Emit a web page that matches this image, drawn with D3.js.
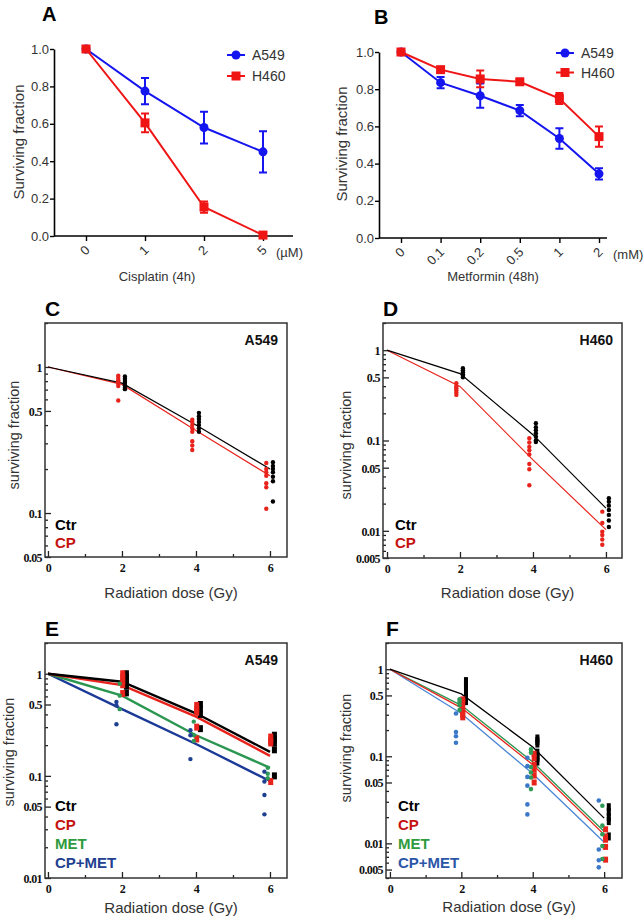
<!DOCTYPE html>
<html lang="en">
<head>
<meta charset="utf-8">
<title>Surviving fraction panels</title>
<script src="https://cdn.jsdelivr.net/npm/d3@7"></script>
<style>
  body { margin: 0; background: #fff; }
  svg { display: block; font-family: Arial, "Liberation Sans", sans-serif; }
</style>
</head>
<body>
<script>
// ---------- data ----------
// A: cisplatin (4h)
const cisDoses = ["0", "1", "2", "5"];
const cisA549 = [1.0, 0.775, 0.58, 0.45];
const cisA549Err = [0.0, 0.07, 0.085, 0.11];
const cisH460 = [1.0, 0.605, 0.155, 0.005];
const cisH460Err = [0.0, 0.05, 0.03, 0.008];

// B: metformin (48h)
const metDoses = ["0", "0.1", "0.2", "0.5", "1", "2"];
const metA549 = [1.0, 0.835, 0.765, 0.685, 0.535, 0.345];
const metA549Err = [0.0, 0.03, 0.065, 0.03, 0.055, 0.03];
const metH460 = [1.0, 0.905, 0.855, 0.84, 0.75, 0.545];
const metH460Err = [0.0, 0.015, 0.045, 0.015, 0.03, 0.055];

// radiation doses (Gy); fitted curves at 0,2,4,6 ; replicate dots at 2,4,6
const radDoses = [0, 2, 4, 6];
const dotDoses = [2, 4, 6];

// C: A549 +/- cisplatin
const cFitCtr = [1, 0.775, 0.40, 0.20];
const cFitCP = [1, 0.76, 0.367, 0.18];
const cDotCtr = [[0.86, 0.83, 0.8, 0.78, 0.75, 0.72, 0.705], [0.485, 0.46, 0.44, 0.42, 0.4, 0.38, 0.36], [0.223, 0.21, 0.2, 0.19, 0.177, 0.165, 0.12]];
const cDotCP = [[0.87, 0.84, 0.81, 0.79, 0.77, 0.74, 0.59], [0.435, 0.42, 0.4, 0.38, 0.36, 0.31, 0.29, 0.27], [0.22, 0.2, 0.19, 0.18, 0.16, 0.15, 0.107]];

// D: H460 +/- cisplatin
const dFitCtr = [1, 0.55, 0.116, 0.0178];
const dFitCP = [1, 0.397, 0.061, 0.0103];
const dDotCtr = [[0.63, 0.6, 0.57, 0.54, 0.52, 0.5], [0.155, 0.14, 0.13, 0.12, 0.11, 0.1, 0.096], [0.023, 0.021, 0.019, 0.017, 0.015, 0.013, 0.011]];
const dDotCP = [[0.43, 0.4, 0.38, 0.36, 0.34, 0.32], [0.106, 0.095, 0.085, 0.078, 0.07, 0.055, 0.048, 0.032], [0.0163, 0.0122, 0.0098, 0.009, 0.008, 0.007]];

// E: A549 four conditions
const eFitCtr = [1, 0.835, 0.41, 0.172];
const eFitCP = [1, 0.775, 0.38, 0.157];
const eFitMET = [1, 0.61, 0.25, 0.12];
const eFitCPMET = [1, 0.45, 0.205, 0.089];
const eDotCtr = [[1.0, 0.93, 0.86, 0.8, 0.76, 0.65], [0.5, 0.45, 0.4, 0.29], [0.25, 0.23, 0.21, 0.18, 0.1]];
const eDotCP = [[1.0, 0.92, 0.85, 0.78, 0.64], [0.49, 0.45, 0.42, 0.3, 0.23], [0.24, 0.22, 0.21, 0.088]];
const eDotMET = [[0.8, 0.61, 0.45], [0.34, 0.25, 0.22], [0.12, 0.105, 0.095]];
const eDotCPMET = [[0.53, 0.49, 0.32], [0.28, 0.25, 0.146], [0.11, 0.088, 0.065, 0.042]];

// F: H460 four conditions
const fFitCtr = [1, 0.52, 0.128, 0.0195];
const fFitCP = [1, 0.36, 0.08, 0.0126];
const fFitMET = [1, 0.385, 0.086, 0.0137];
const fFitCPMET = [1, 0.31, 0.063, 0.0103];
const fDotCtr = [[0.73, 0.68, 0.63, 0.52, 0.47, 0.43], [0.16, 0.15, 0.14, 0.11, 0.1, 0.095, 0.087], [0.026, 0.023, 0.02, 0.018, 0.012]];
const fDotCP = [[0.45, 0.43, 0.37, 0.33, 0.3, 0.28], [0.107, 0.095, 0.08, 0.07, 0.06, 0.05], [0.0145, 0.012, 0.011, 0.0091, 0.0065]];
const fDotMET = [[0.45, 0.42, 0.385, 0.34], [0.12, 0.11, 0.075, 0.065, 0.057, 0.042], [0.027, 0.016, 0.0127, 0.0093, 0.0066]];
const fDotCPMET = [[0.31, 0.19, 0.17, 0.143], [0.096, 0.077, 0.058, 0.046, 0.028, 0.0215], [0.031, 0.0085, 0.0064, 0.0053]];

const linTicks = [0, 0.2, 0.4, 0.6, 0.8, 1.0];

// ---------- drawing ----------
const svg = d3.select("body").append("svg")
  .attr("width", 644)
  .attr("height", 918);

const BLUE = "#1515f0", RED = "#f01515";

function drugPanel(p) {
  const g = svg.append("g");
  const x = d3.scalePoint().domain(p.cats).range(p.xr);
  const y = d3.scaleLinear().domain([0, 1]).range(p.yr);

  const ya = g.append("g")
    .attr("transform", `translate(${p.ax[0]},0)`)
    .call(d3.axisLeft(y).tickValues(linTicks).tickFormat(d3.format(".1f")).tickSize(4).tickSizeOuter(0));
  ya.select(".domain").attr("stroke-width", 1.6);
  ya.selectAll(".tick line").attr("stroke-width", 1.4);
  ya.selectAll("text").attr("font-size", 13).attr("fill", "#333").attr("x", -5);

  const xa = g.append("g")
    .attr("transform", `translate(0,${p.yr[0]})`)
    .call(d3.axisBottom(x).tickSize(5).tickSizeOuter(0));
  xa.select(".domain").attr("d", `M${p.ax[0]},0H${p.ax[1]}`).attr("stroke-width", 1.6);
  xa.selectAll(".tick line").attr("stroke-width", 1.4);
  xa.selectAll("text")
    .attr("font-size", 13).attr("fill", "#333")
    .attr("y", 0).attr("dy", 0)
    .attr("text-anchor", "end")
    .attr("transform", "translate(4,15) rotate(-45)");

  g.append("text").attr("x", p.unit[1]).attr("y", p.yr[0] + 21)
    .attr("font-size", 13).attr("fill", "#333").text(p.unit[0]);
  g.append("text").attr("x", p.xlab[0]).attr("y", p.xlab[1])
    .attr("text-anchor", "middle").attr("font-size", 13).attr("fill", "#333").text(p.xtitle);
  g.append("text").attr("transform", `translate(${p.ylab[0]},${p.ylab[1]}) rotate(-90)`)
    .attr("text-anchor", "middle").attr("font-size", 15).attr("fill", "#333").text("Surviving fraction");
  g.append("text").attr("x", p.title[0]).attr("y", p.title[1])
    .attr("font-size", 20).attr("font-weight", "bold").text(p.label);

  const line = d3.line().x((d, i) => x(p.cats[i])).y(d => y(d));

  p.series.forEach(s => {
    const sg = g.append("g");
    sg.append("path").attr("d", line(s.vals))
      .attr("fill", "none").attr("stroke", s.color).attr("stroke-width", 2);
    s.vals.forEach((v, i) => {
      const e = s.errs[i];
      if (e > 0) {
        const cx = x(p.cats[i]);
        sg.append("path")
          .attr("d", `M${cx},${y(v - e)}V${y(v + e)}M${cx - 4},${y(v - e)}H${cx + 4}M${cx - 4},${y(v + e)}H${cx + 4}`)
          .attr("stroke", s.color).attr("stroke-width", 2).attr("fill", "none");
      }
    });
    sg.selectAll(".m").data(s.vals).join(s.shape === "circle" ? "circle" : "rect")
      .each(function (d, i) {
        const el = d3.select(this);
        const cx = x(p.cats[i]), cy = y(d);
        if (s.shape === "circle") el.attr("cx", cx).attr("cy", cy).attr("r", 4.5);
        else el.attr("x", cx - 4.5).attr("y", cy - 4.5).attr("width", 9).attr("height", 9);
      })
      .attr("fill", s.color);
  });

  // legend
  p.series.forEach((s, i) => {
    const ly = p.leg[1] + i * p.leg[2];
    const lx = p.leg[0];
    g.append("line").attr("x1", lx).attr("x2", lx + 18).attr("y1", ly).attr("y2", ly)
      .attr("stroke", s.color).attr("stroke-width", 2);
    if (s.shape === "circle")
      g.append("circle").attr("cx", lx + 9).attr("cy", ly).attr("r", 4.5).attr("fill", s.color);
    else
      g.append("rect").attr("x", lx + 4.5).attr("y", ly - 4.5).attr("width", 9).attr("height", 9).attr("fill", s.color);
    g.append("text").attr("x", lx + 25).attr("y", ly + 5).attr("font-size", 14).attr("fill", "#333").text(s.name);
  });
}

drugPanel({
  label: "A", title: [42, 21],
  cats: cisDoses, xr: [86, 263], ax: [54, 293], yr: [236, 49],
  unit: ["(µM)", 276], xtitle: "Cisplatin (4h)", xlab: [157, 281], ylab: [24, 142],
  leg: [227, 55, 21],
  series: [
    { name: "A549", color: BLUE, shape: "circle", vals: cisA549, errs: cisA549Err },
    { name: "H460", color: RED, shape: "square", vals: cisH460, errs: cisH460Err }
  ]
});

drugPanel({
  label: "B", title: [374, 24],
  cats: metDoses, xr: [401, 599], ax: [379, 607], yr: [238, 52],
  unit: ["(mM)", 613], xtitle: "Metformin (48h)", xlab: [493, 281], ylab: [347, 144],
  leg: [556, 53, 19.5],
  series: [
    { name: "A549", color: BLUE, shape: "circle", vals: metA549, errs: metA549Err },
    { name: "H460", color: RED, shape: "square", vals: metH460, errs: metH460Err }
  ]
});

function radPanel(p) {
  const g = svg.append("g");
  const [L, R, T, B] = p.box;
  const x = d3.scaleLinear().domain(p.xd).range([L, R]);
  const y = d3.scaleLog().domain([p.ymin, 2]).range([B, T]);

  // minor ticks
  const minorY = y.ticks().filter(v => !p.yt.some(t => Math.abs(t - v) < 1e-9));
  g.append("g").attr("transform", `translate(${L},0)`)
    .call(d3.axisLeft(y).tickValues(minorY).tickFormat("").tickSize(-3))
    .call(a => a.select(".domain").remove());
  g.append("g").attr("transform", `translate(0,${B})`)
    .call(d3.axisBottom(x).tickValues([1, 3, 5]).tickFormat("").tickSize(-3))
    .call(a => a.select(".domain").remove());

  const ya = g.append("g").attr("transform", `translate(${L},0)`)
    .call(d3.axisLeft(y).tickValues(p.yt).tickFormat((d, i) => p.yl[i]).tickSize(-6));
  ya.select(".domain").remove();
  ya.selectAll("text").attr("x", -3).attr("dy", "0.36em");

  const xa = g.append("g").attr("transform", `translate(0,${B})`)
    .call(d3.axisBottom(x).tickValues([0, 2, 4, 6]).tickFormat(d3.format("d")).tickSize(-6));
  xa.select(".domain").remove();
  xa.selectAll("text").attr("y", 15).attr("dy", 0);

  g.selectAll(".tick line").attr("stroke", "#222").attr("stroke-width", 1.3);
  g.selectAll(".tick text")
    .attr("font-family", "'Liberation Serif', serif").attr("font-weight", "bold")
    .attr("font-size", 12).attr("letter-spacing", -0.6).attr("fill", "#111");

  g.append("rect").attr("x", L).attr("y", T).attr("width", R - L).attr("height", B - T)
    .attr("fill", "none").attr("stroke", "#333").attr("stroke-width", 1.5);

  const line = d3.line().x((d, i) => x(radDoses[i])).y(d => y(d));

  p.groups.slice().reverse().forEach(s => {
    g.append("path").attr("d", line(s.fit))
      .attr("fill", "none").attr("stroke", s.line).attr("stroke-width", p.lw);
  });
  p.groups.forEach(s => {
    const pts = [];
    s.dots.forEach((arr, i) => arr.forEach(v => pts.push([dotDoses[i] + s.off, v])));
    const dg = g.append("g").attr("fill", s.color);
    if (s.shape === "rect") {
      dg.selectAll("rect").data(pts).join("rect")
        .attr("x", d => x(d[0]) - s.w / 2).attr("y", d => y(d[1]) - s.h / 2)
        .attr("width", s.w).attr("height", s.h);
    } else {
      dg.selectAll("circle").data(pts).join("circle")
        .attr("cx", d => x(d[0])).attr("cy", d => y(d[1])).attr("r", s.r);
    }
  });

  // legend
  p.groups.forEach((s, i) => {
    g.append("text").attr("x", p.leg[0]).attr("y", p.leg[1] + i * p.leg[2])
      .attr("font-size", 15).attr("font-weight", "bold").attr("fill", s.text).text(s.name);
  });

  g.append("text").attr("x", R - 9).attr("y", T + 22).attr("text-anchor", "end")
    .attr("font-size", 14).attr("font-weight", "bold").attr("fill", "#111").text(p.cell);
  g.append("text").attr("x", L).attr("y", T - 7)
    .attr("font-size", 21).attr("font-weight", "bold").text(p.label);
  g.append("text").attr("x", (L + R) / 2 + 5).attr("y", p.xlabY)
    .attr("text-anchor", "middle").attr("font-size", 15).attr("fill", "#333").text("Radiation dose (Gy)");
  g.append("text").attr("transform", `translate(${p.ylab[0]},${p.ylab[1]}) rotate(-90)`)
    .attr("text-anchor", "middle").attr("font-size", 14.5).attr("fill", "#333").text("surviving fraction");
}

const K = { name: "Ctr", color: "#000", line: "#000", text: "#000" };
const R_ = { name: "CP", color: "#e8231c", line: "#e8231c", text: "#c5120f" };

radPanel({
  label: "C", cell: "A549", box: [45, 287, 323, 557], xd: [-0.08, 6.46], ymin: 0.05,
  yt: [1, 0.5, 0.1, 0.05], yl: ["1", "0.5", "0.1", "0.05"], lw: 1.2,
  leg: [55, 530, 18], xlabY: 598, ylab: [19, 435],
  groups: [
    Object.assign({}, K, { fit: cFitCtr, dots: cDotCtr, off: 0.08, shape: "circle", r: 2.2 }),
    Object.assign({}, R_, { fit: cFitCP, dots: cDotCP, off: -0.1, shape: "circle", r: 2.2 })
  ]
});

radPanel({
  label: "D", cell: "H460", box: [383, 622, 323, 558], xd: [-0.11, 6.44], ymin: 0.005,
  yt: [1, 0.5, 0.1, 0.05, 0.01, 0.005], yl: ["1", "0.5", "0.1", "0.05", "0.01", "0.005"], lw: 1.2,
  leg: [395, 530, 18], xlabY: 598, ylab: [351, 445],
  groups: [
    Object.assign({}, K, { fit: dFitCtr, dots: dDotCtr, off: 0.08, shape: "circle", r: 2.2 }),
    Object.assign({}, R_, { fit: dFitCP, dots: dDotCP, off: -0.1, shape: "circle", r: 2.2 })
  ]
});

radPanel({
  label: "E", cell: "A549", box: [45, 287, 643, 878], xd: [-0.08, 6.46], ymin: 0.01,
  yt: [1, 0.5, 0.1, 0.05, 0.01], yl: ["1", "0.5", "0.1", "0.05", "0.01"], lw: 2.4,
  leg: [55, 811, 19], xlabY: 913, ylab: [14, 752],
  groups: [
    Object.assign({}, K, { fit: eFitCtr, dots: eDotCtr, off: 0.12, shape: "rect", w: 5, h: 7 }),
    Object.assign({}, R_, { fit: eFitCP, dots: eDotCP, off: 0.02, shape: "rect", w: 5, h: 7 }),
    { name: "MET", color: "#2f9a55", line: "#2a9650", text: "#2e9b3c", fit: eFitMET, dots: eDotMET, off: -0.06, shape: "circle", r: 2.2 },
    { name: "CP+MET", color: "#1e3f92", line: "#1b3a98", text: "#21408f", fit: eFitCPMET, dots: eDotCPMET, off: -0.15, shape: "circle", r: 2.2 }
  ]
});

radPanel({
  label: "F", cell: "H460", box: [386, 622, 643, 878], xd: [-0.11, 6.5], ymin: 0.004,
  yt: [1, 0.5, 0.1, 0.05, 0.01, 0.005], yl: ["1", "0.5", "0.1", "0.05", "0.01", "0.005"], lw: 1.3,
  leg: [398, 811, 19], xlabY: 912, ylab: [351, 748],
  groups: [
    Object.assign({}, K, { fit: fFitCtr, dots: fDotCtr, off: 0.13, shape: "rect", w: 4, h: 8 }),
    Object.assign({}, R_, { fit: fFitCP, dots: fDotCP, off: 0.04, shape: "rect", w: 5, h: 6 }),
    { name: "MET", color: "#2f9a55", line: "#2a9650", text: "#2e9b3c", fit: fFitMET, dots: fDotMET, off: -0.05, shape: "circle", r: 2.3 },
    { name: "CP+MET", color: "#3b78c9", line: "#4a86d6", text: "#2b56a8", fit: fFitCPMET, dots: fDotCPMET, off: -0.15, shape: "circle", r: 2.3 }
  ]
});
</script>
</body>
</html>
